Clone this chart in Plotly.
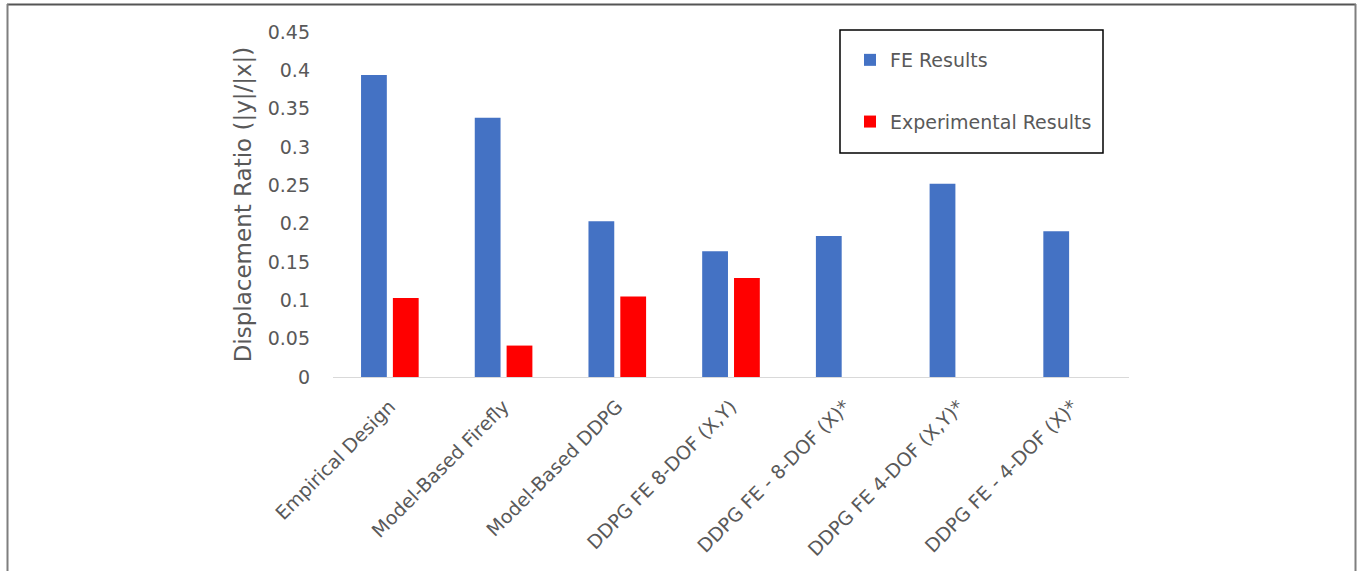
import plotly.graph_objects as go

# Displacement ratio per design approach
categories = [
    "Empirical Design",
    "Model-Based Firefly",
    "Model-Based DDPG",
    "DDPG FE 8-DOF (X,Y)",
    "DDPG FE - 8-DOF (X)*",
    "DDPG FE 4-DOF (X,Y)*",
    "DDPG FE - 4-DOF (X)*",
]
fe_results = [0.394, 0.338, 0.203, 0.164, 0.184, 0.252, 0.190]
experimental_results = [0.103, 0.041, 0.105, 0.129, None, None, None]
y_ticks = [0, 0.05, 0.1, 0.15, 0.2, 0.25, 0.3, 0.35, 0.4, 0.45]
y_tick_text = ["0", "0.05", "0.1", "0.15", "0.2", "0.25", "0.3", "0.35", "0.4", "0.45"]

W, H = 1362, 571
L, R, T, B = 333, 233, 32, 194
FONT = "DejaVu Sans"
GREY = "#595959"


def px_x(p):
    return (p - L) / (W - L - R)


def px_y(p):
    return (H - B - p) / (H - T - B)


fig = go.Figure()
fig.add_trace(go.Bar(name="FE Results", x=categories, y=fe_results, legendgroup="fe",
                     marker=dict(color="#4472C4", line=dict(width=0))))
fig.add_trace(go.Bar(name="Experimental Results", x=categories, y=experimental_results,
                     legendgroup="exp",
                     marker=dict(color="#FF0000", line=dict(width=0))))

fig.update_layout(
    width=W, height=H, autosize=False,
    margin=dict(l=L, r=R, t=T, b=B, pad=0),
    paper_bgcolor="white", plot_bgcolor="white",
    barmode="group", bargap=0.44, bargroupgap=0.19,
    font=dict(family=FONT, size=19, color=GREY),
    showlegend=True,
    legend=dict(
        x=px_x(850), y=px_y(41), xanchor="left", yanchor="top",
        bgcolor="rgba(0,0,0,0)", borderwidth=0,
        font=dict(family=FONT, size=19, color=GREY),
        tracegroupgap=34, traceorder="grouped",
    ),
    xaxis=dict(
        tickangle=-45, showline=True, linecolor="#d9d9d9", linewidth=1,
        ticks="", showgrid=False, ticklabelstandoff=10,
        tickfont=dict(family=FONT, size=19, color=GREY),
    ),
    yaxis=dict(
        range=[0, 0.45], tickvals=y_ticks, ticktext=y_tick_text,
        showgrid=False, zeroline=False, showline=False, ticks="",
        ticklabelstandoff=22,
        tickfont=dict(family=FONT, size=19, color=GREY),
        title=dict(text="Displacement Ratio (|y|/|x|)", standoff=9,
                   font=dict(family=FONT, size=23, color=GREY)),
    ),
    shapes=[
        # legend frame
        dict(type="rect", xref="paper", yref="paper",
             x0=px_x(840), x1=px_x(1103), y0=px_y(30), y1=px_y(153),
             line=dict(color="black", width=1.5), fillcolor="rgba(0,0,0,0)"),
        # outer chart frame (top, left, right)
        dict(type="line", xref="paper", yref="paper",
             x0=px_x(7), x1=px_x(1356), y0=px_y(4.5), y1=px_y(4.5),
             line=dict(color="#555555", width=2)),
        dict(type="line", xref="paper", yref="paper",
             x0=px_x(7.5), x1=px_x(7.5), y0=px_y(4), y1=px_y(575),
             line=dict(color="#7f7f7f", width=2)),
        dict(type="line", xref="paper", yref="paper",
             x0=px_x(1355.5), x1=px_x(1355.5), y0=px_y(4), y1=px_y(575),
             line=dict(color="#7f7f7f", width=2)),
    ],
)

fig.write_html("out.html")
